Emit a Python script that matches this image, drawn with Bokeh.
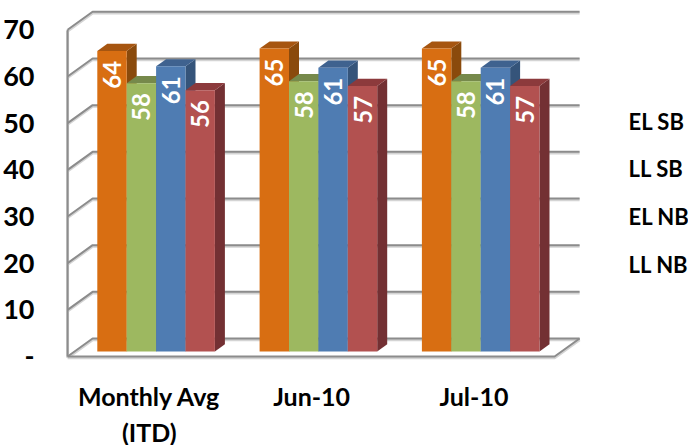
from bokeh.plotting import figure
from bokeh.models import FixedTicker, Range1d
from bokeh.core.properties import value
from bokeh.embed import file_html
from bokeh.resources import INLINE

categories = ["Monthly Avg\n(ITD)", "Jun-10", "Jul-10"]
series = ["EL SB", "LL SB", "EL NB", "LL NB"]
el_sb = [64.4, 64.9, 64.9]
ll_sb = [57.5, 57.9, 57.9]
el_nb = [61.1, 60.8, 60.8]
ll_nb = [56.0, 56.9, 56.9]
labels_el_sb = ["64", "65", "65"]
labels_ll_sb = ["58", "58", "58"]
labels_el_nb = ["61", "61", "61"]
labels_ll_nb = ["56", "57", "57"]
y_ticks = [0, 10, 20, 30, 40, 50, 60, 70]

front = ["#D86E12", "#9DB860", "#4F7CB2", "#B25150"]
top = ["#A65510", "#76894B", "#3F628F", "#8C3A3C"]
side = ["#8A4A0C", "#66773F", "#35547A", "#733033"]
FONT = value("Lato")
GRID = "#8C8C8C"

PXX, PXY = 162.3, 4.667
BW = 29.4 / PXX
DX, DY = 10 / PXX, 7.2 / PXY
WALL_DX, WALL_DY = 25 / PXX, 18 / PXY
BASE = 5 / PXY
WALL_L = -29.7 / PXX
WALL_R = (555 - 97.7) / PXX

p = figure(frame_width=630, frame_height=360, output_backend="svg", toolbar_location=None,
           x_range=Range1d((58.9 - 97.7) / PXX, (688.9 - 97.7) / PXX),
           y_range=Range1d(-4 / PXY, 356 / PXY),
           min_border_left=54, min_border_right=0, min_border_top=0, min_border_bottom=0)
p.outline_line_color = None
p.grid.visible = False
p.background_fill_color = None
p.border_fill_color = "white"

# walls and floor
xs, ys = [], []
for v in y_ticks:
    xs.append([WALL_L, WALL_L + WALL_DX, WALL_R + WALL_DX])
    ys.append([v, v + WALL_DY, v + WALL_DY])
xs.append([WALL_L, WALL_L])
ys.append([0, y_ticks[-1]])
xs.append([WALL_L, WALL_R, WALL_R + WALL_DX])
ys.append([0, 0, WALL_DY])
p.multi_line(xs, [[y - 0.25 for y in row] for row in ys], line_color="#D4D4D4", line_width=3)
p.multi_line(xs, ys, line_color=GRID, line_width=2)

# bars
vals = [el_sb, ll_sb, el_nb, ll_nb]
labs = [labels_el_sb, labels_ll_sb, labels_el_nb, labels_ll_nb]
for j, (vs, ls) in enumerate(zip(vals, labs)):
    lefts = [i + j * BW for i in range(3)]
    rights = [x + BW for x in lefts]
    tops = [v + BASE for v in vs]
    p.patches([[r, r + DX, r + DX, r] for r in rights],
              [[BASE, BASE + DY, t + DY, t] for t in tops],
              fill_color=side[j], line_color=None)
    p.patches([[l, l + DX, r + DX, r] for l, r in zip(lefts, rights)],
              [[t, t + DY, t + DY, t] for t in tops],
              fill_color=top[j], line_color=None)
    p.quad(left=lefts, right=rights, bottom=BASE, top=tops, fill_color=front[j], line_color=None)
    p.text([x + BW / 2 for x in lefts], tops, text=ls, angle=1.5708, text_align="right",
           text_baseline="middle", y_offset=10, text_color="white", text_font=FONT,
           text_font_style="bold", text_font_size="24px")

# axes
ya = p.yaxis[0]
ya.ticker = FixedTicker(ticks=y_ticks)
ya.major_label_overrides = {0: "-"}
ya.axis_line_color = None
ya.major_tick_line_color = None
ya.minor_tick_line_color = None
ya.major_label_standoff = 18
ya.major_label_text_font = "Lato"
ya.major_label_text_font_style = "bold"
ya.major_label_text_font_size = "27px"
ya.major_label_text_color = "black"

xa = p.xaxis[0]
tick_pos = [i + 2 * BW - 6.8 / PXX for i in range(3)]
xa.ticker = FixedTicker(ticks=tick_pos)
xa.major_label_overrides = {t: c for t, c in zip(tick_pos, categories)}
xa.axis_line_color = None
xa.major_tick_line_color = None
xa.minor_tick_line_color = None
xa.major_label_standoff = 14
xa.major_label_text_font = "Lato"
xa.major_label_text_font_style = "bold"
xa.major_label_text_font_size = "25px"
xa.major_label_text_color = "black"

# series names at the right
name_x = (629 - 97.7) / PXX
name_y = [(355 - sy) / PXY for sy in [120, 167, 215, 263]]
p.text([name_x] * 4, name_y, text=series, text_align="left", text_baseline="middle",
       text_color="black", text_font=FONT, text_font_style="bold", text_font_size="22px")

open("out.html", "w").write(file_html(p, INLINE))
